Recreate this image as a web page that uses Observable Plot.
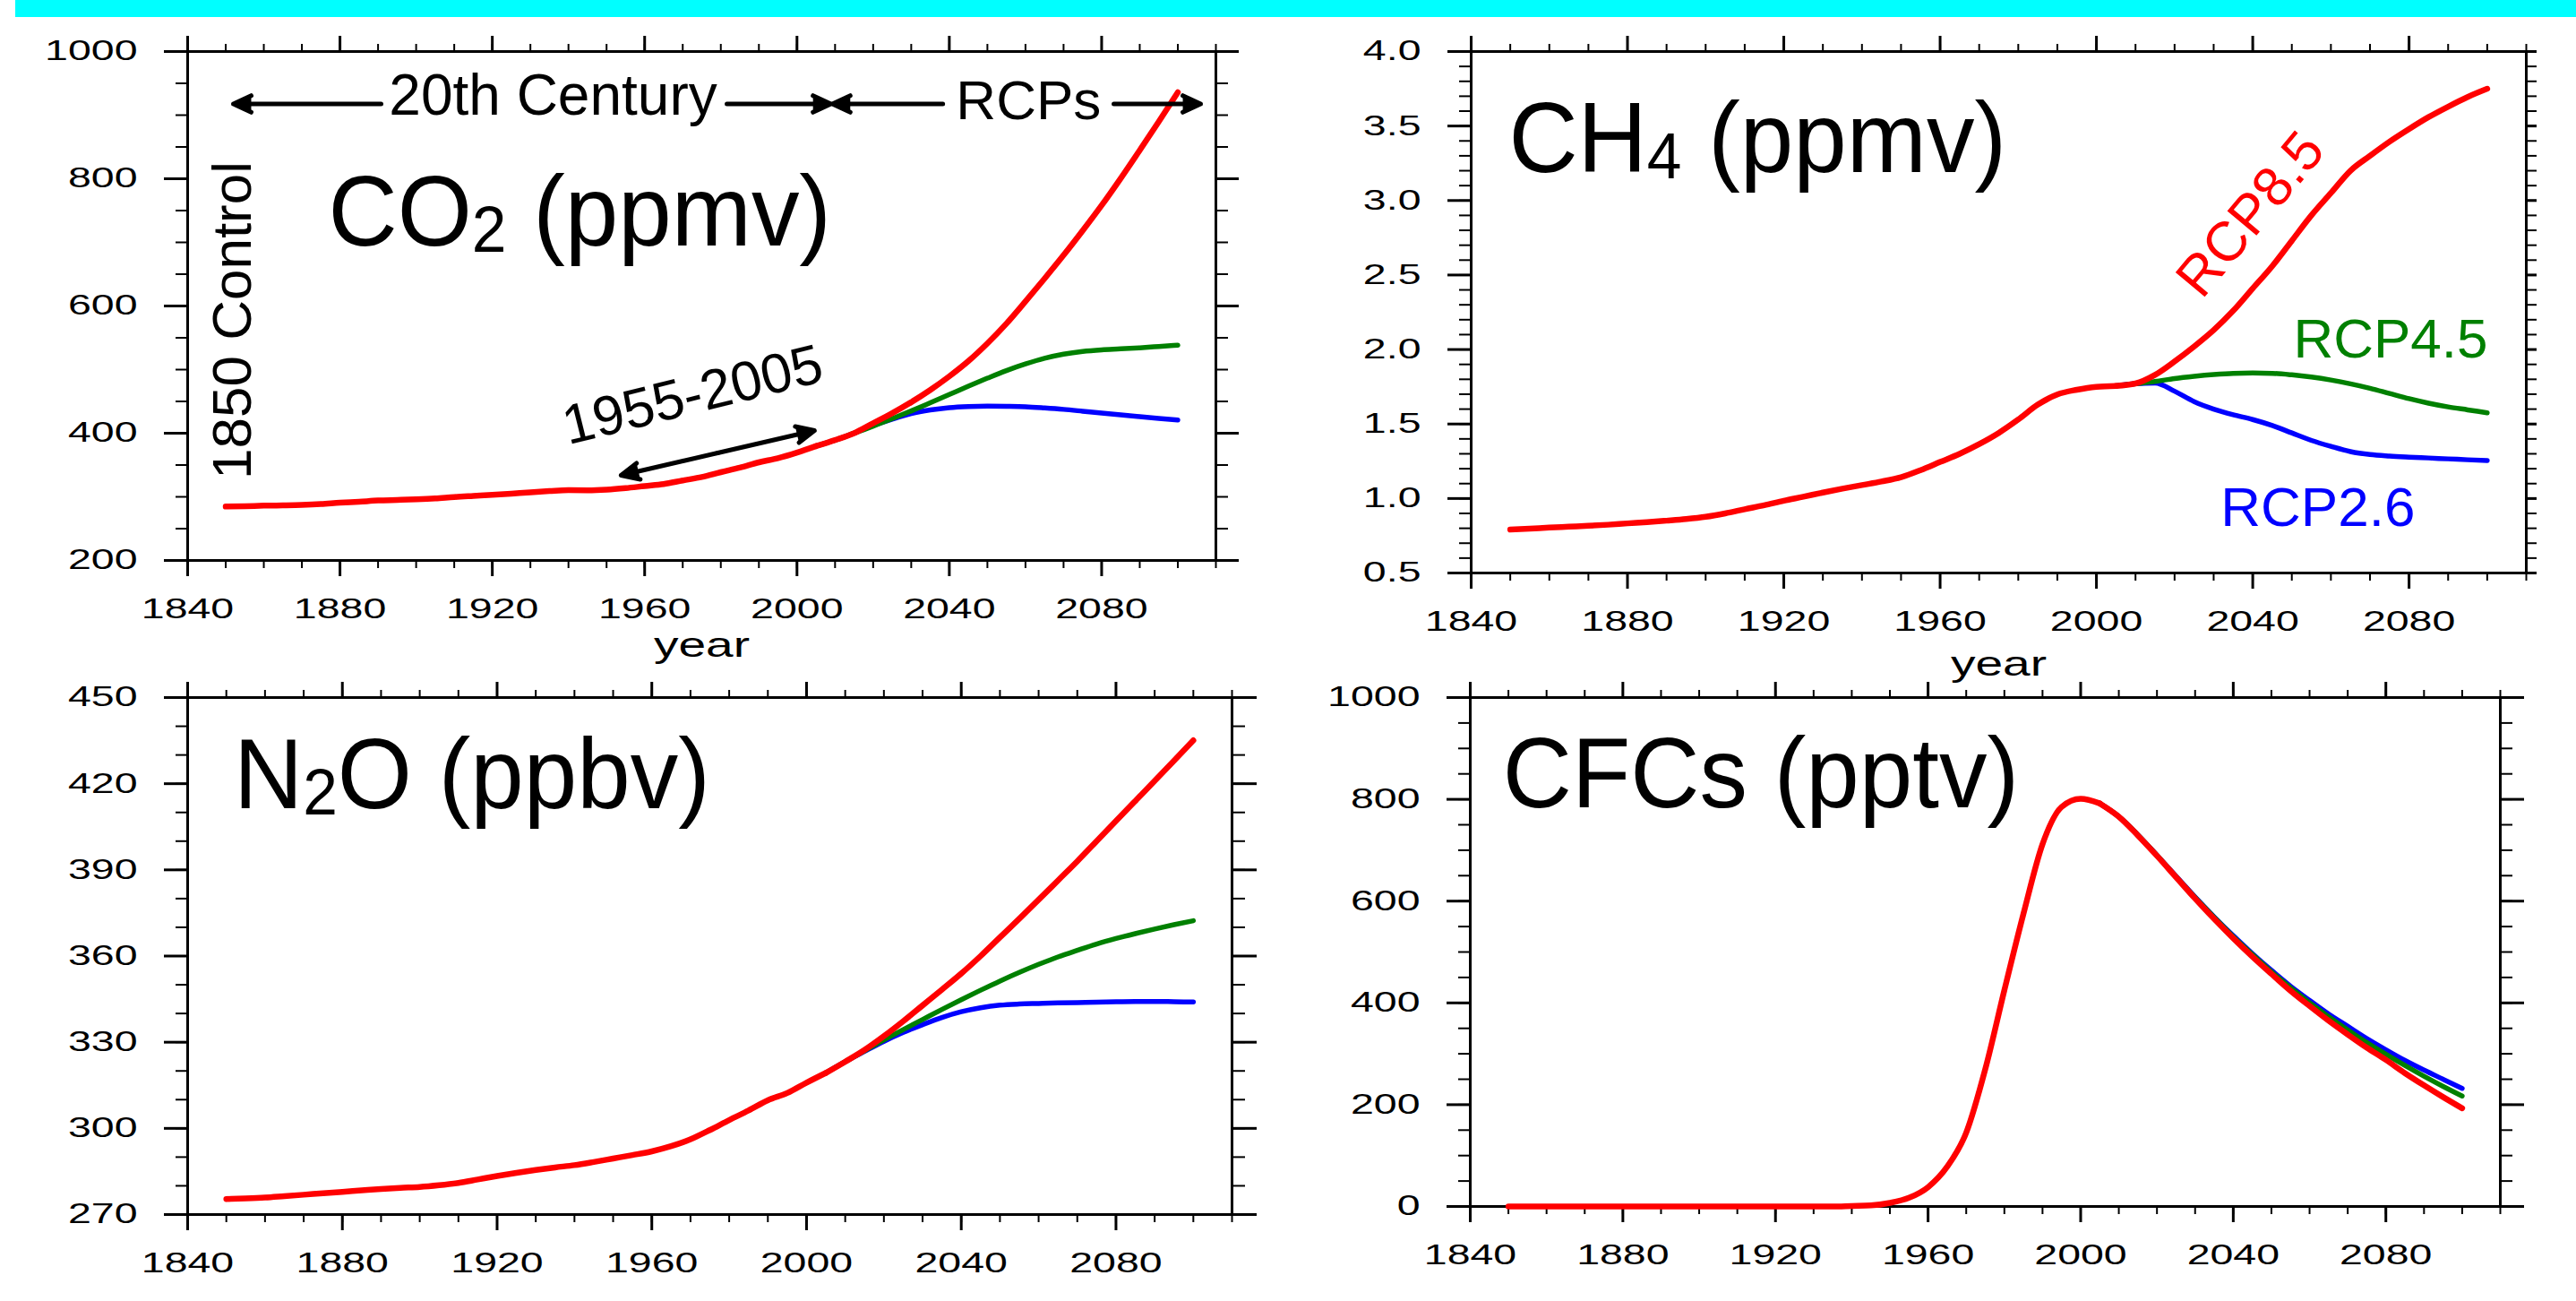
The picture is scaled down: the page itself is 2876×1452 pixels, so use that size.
<!DOCTYPE html>
<html><head><meta charset="utf-8">
<script src="https://cdn.jsdelivr.net/npm/d3@7"></script>
<script src="https://cdn.jsdelivr.net/npm/@observablehq/plot@0.6"></script>
<style>
html,body{margin:0;padding:0;background:#fff;}
#page{position:relative;width:2876px;height:1452px;overflow:hidden;background:#fff;}
#bar{position:absolute;left:17px;top:0;width:2859px;height:19px;background:#00ffff;}
</style></head>
<body><div id="page"><div id="bar"></div></div>
<script>
// ---------------- data ----------------
const histYears = [1850,1855,1860,1865,1870,1875,1880,1885,1890,1895,1900,1905,1910,1915,1920,1925,1930,1935,1940,1945,1950,1955,1960,1965,1970,1975,1980,1985,1990,1995,2000,2005];
const rcpYears = [2005,2010,2015,2020,2025,2030,2035,2040,2045,2050,2055,2060,2065,2070,2075,2080,2085,2090,2095,2100];

const co2Hist = [284.7,285.2,286.1,286.6,287.3,288.6,290.7,292.3,294.2,295.1,296.0,297.4,299.7,301.4,303.0,305.0,307.2,309.0,310.4,310.3,311.3,313.7,316.9,320.0,325.7,331.1,338.7,345.9,354.2,360.8,369.6,379.8];
const co2Rcp26 = [379.8,389.1,400.0,412.1,422.1,430.8,436.5,440.2,442.0,442.7,442.4,441.7,439.8,437.5,434.6,431.6,428.8,426.0,423.4,420.9];
const co2Rcp45 = [379.8,389.1,400.1,411.1,422.8,435.0,447.8,460.8,473.9,486.5,498.5,508.9,517.8,524.3,528.6,531.1,532.6,534.3,536.3,538.4];
const co2Rcp85 = [379.8,389.3,400.1,415.8,431.5,448.8,468.0,489.4,513.3,541.2,572.4,607.2,643.0,679.8,718.3,758.2,800.6,844.8,889.8,935.9];

const ch4Hist = [0.791,0.797,0.805,0.811,0.817,0.824,0.833,0.841,0.851,0.862,0.877,0.900,0.928,0.955,0.985,1.012,1.040,1.066,1.090,1.114,1.143,1.190,1.245,1.300,1.365,1.440,1.530,1.630,1.698,1.730,1.750,1.756];
const ch4Rcp26 = [1.756,1.770,1.775,1.720,1.650,1.600,1.562,1.530,1.490,1.440,1.390,1.350,1.315,1.295,1.285,1.278,1.272,1.266,1.260,1.255];
const ch4Rcp45 = [1.756,1.770,1.785,1.805,1.820,1.832,1.840,1.842,1.840,1.830,1.815,1.795,1.770,1.740,1.705,1.670,1.640,1.615,1.595,1.575];
const ch4Rcp85 = [1.756,1.772,1.830,1.920,2.020,2.130,2.260,2.410,2.560,2.730,2.900,3.050,3.200,3.300,3.395,3.480,3.560,3.630,3.695,3.750];

const n2oHist = [275.4,275.6,275.9,276.4,276.9,277.4,277.9,278.4,278.9,279.3,279.6,280.2,281.0,282.2,283.4,284.5,285.5,286.4,287.2,288.3,289.5,290.7,292.0,293.8,296.2,299.4,302.9,306.2,309.8,312.3,315.9,319.3];
const n2oRcp26 = [319.3,323.2,326.8,330.3,333.4,336.1,338.6,340.6,342.0,342.9,343.3,343.5,343.7,343.8,343.9,344.1,344.2,344.2,344.1,344.0];
const n2oRcp45 = [319.3,323.2,327.0,330.8,334.4,337.9,341.4,344.8,348.1,351.3,354.3,357.1,359.7,362.0,364.2,366.1,367.8,369.4,370.9,372.3];
const n2oRcp85 = [319.3,323.2,327.3,332.1,337.3,342.8,348.3,353.9,360.0,366.5,373.0,379.6,386.3,393.0,400.0,407.0,414.0,421.0,428.0,435.1];

const cfcHist = [0,0,0,0,0,0,0,0,0,0,0,0,0,0,0,0,0,0,1,2,7,17,38,78,145,270,425,575,712,785,801,792];
const cfcRcp26 = [792,766,730,690,649,608,569,532,497,464,433,405,378,354,330,308,287,268,250,232];
const cfcRcp45 = [792,766,730,690,648,607,568,530,495,461,430,400,373,347,322,299,277,256,236,217];
const cfcRcp85 = [792,766,729,689,647,605,565,527,491,457,424,394,365,338,312,288,262,238,215,193];

// tick labels
const xTicks = [1840,1880,1920,1960,2000,2040,2080];
const co2Ticks = [200,400,600,800,1000];
const ch4Ticks = [0.5,1.0,1.5,2.0,2.5,3.0,3.5,4.0];
const n2oTicks = [270,300,330,360,390,420,450];
const cfcTicks = [0,200,400,600,800,1000];

// text
const titleParts = {
  co2: ["CO", "2", " (ppmv)"],
  ch4: ["CH", "4", " (ppmv)"],
  n2o: ["N", "2", "O (ppbv)"],
  cfc: ["CFCs (pptv)", "", ""]
};
const scenarioNames = ["RCP2.6", "RCP4.5", "RCP8.5"];
const colors = {"RCP2.6": "#0000ff", "RCP4.5": "#008000", "RCP8.5": "#ff0000"};

// ---------------- helpers ----------------
const FONT = '"Liberation Sans", Arial, Helvetica, sans-serif';
const series = (years, values) => years.map((year, i) => ({year, value: values[i]}));

function gasLines(hist, r26, r45, r85) {
  return [
    Plot.line(series(rcpYears, r26), {x: "year", y: "value", stroke: colors["RCP2.6"], strokeWidth: 5.5, curve: "monotone-x"}),
    Plot.line(series(rcpYears, r45), {x: "year", y: "value", stroke: colors["RCP4.5"], strokeWidth: 5.5, curve: "monotone-x"}),
    Plot.line(series(rcpYears, r85), {x: "year", y: "value", stroke: colors["RCP8.5"], strokeWidth: 6.5, curve: "monotone-x"}),
    Plot.line(series(histYears, hist), {x: "year", y: "value", stroke: colors["RCP8.5"], strokeWidth: 6.5, curve: "monotone-x"})
  ];
}

function axes(o) {
  const xMinor = d3.range(1840, 2111, 10);
  const n = Math.round((o.yDomain[1] - o.yDomain[0]) / o.minorStep);
  const yMinor = d3.range(0, n + 1).map(i => +(o.yDomain[0] + i * o.minorStep).toFixed(4));
  return [
    Plot.axisX({anchor: "bottom", ticks: xMinor, tickSize: 9, strokeWidth: 2, fill: "none", label: null}),
    Plot.axisX({anchor: "top", ticks: xMinor, tickSize: 9, strokeWidth: 2, fill: "none", label: null}),
    Plot.axisX({anchor: "top", ticks: xTicks, tickSize: 18, strokeWidth: 3, fill: "none", label: null}),
    Plot.axisX({anchor: "bottom", ticks: xTicks, tickSize: 18, strokeWidth: 3, tickPadding: 24, fontSize: 31, tickFormat: d => String(d), label: null}),
    Plot.axisY({anchor: "left", ticks: yMinor, tickSize: 13, strokeWidth: 2, fill: "none", label: null}),
    Plot.axisY({anchor: "right", ticks: yMinor, tickSize: o.rMinor, strokeWidth: 2, fill: "none", label: null}),
    Plot.axisY({anchor: "right", ticks: o.yTicks, tickSize: o.rMajor, strokeWidth: 3, fill: "none", label: null}),
    Plot.axisY({anchor: "left", ticks: o.yTicks, tickSize: 26, strokeWidth: 3, tickPadding: 30, fontSize: 31, tickFormat: o.yFormat, label: null}),
    Plot.frame({strokeWidth: 3})
  ];
}

function title(key, x, y) {
  return Plot.text([titleParts[key].join("")], {x: () => x, y: () => y, text: d => d, fontSize: 112, textAnchor: "start", lineAnchor: "bottom"});
}
function label(txt, x, y, opts = {}) {
  return Plot.text([txt], {x: () => x, y: () => y, text: d => d, fontSize: 62, lineAnchor: "bottom", textAnchor: "start", ...opts});
}
function yearLabel(dy) {
  return Plot.text(["year"], {frameAnchor: "bottom", dy, text: d => d, fontSize: 38, lineAnchor: "bottom"});
}

function addTransform(t, extra) {
  const tr = t.getAttribute("transform") || "";
  t.setAttribute("transform", (tr + " " + extra).trim());
}
function postProcess(svg) {
  const ns = "http://www.w3.org/2000/svg";
  svg.querySelectorAll('[aria-label$="tick label"] text').forEach(t => addTransform(t, "scale(1.5,1)"));
  svg.querySelectorAll("text").forEach(t => {
    const c = t.textContent;
    const parts = Object.values(titleParts).find(p => p.join("") === c);
    if (parts) {
      if (parts[1]) {
        t.textContent = "";
        const a = document.createElementNS(ns, "tspan"); a.textContent = parts[0]; t.appendChild(a);
        const b = document.createElementNS(ns, "tspan"); b.textContent = parts[1];
        b.setAttribute("font-size", "0.65em"); b.setAttribute("dy", "7"); t.appendChild(b);
        const d = document.createElementNS(ns, "tspan"); d.textContent = parts[2];
        d.setAttribute("dy", "-7"); t.appendChild(d);
      }
      addTransform(t, "scale(0.955,1)");
    } else if (c === "year") {
      addTransform(t, "scale(1.45,1)");
    }
  });
}

function panel(cfg) {
  const {left, top, width, height, frame} = cfg;
  const svg = Plot.plot({
    width, height,
    marginLeft: frame.l - left, marginRight: left + width - frame.r,
    marginTop: frame.t - top, marginBottom: top + height - frame.b,
    style: `background: transparent; overflow: visible; max-width: none; font-family: ${FONT};`,
    x: {domain: [1840, 2110], axis: null},
    y: {domain: cfg.yDomain, axis: null},
    marks: [...axes(cfg), ...cfg.marks]
  });
  svg.style.position = "absolute";
  svg.style.left = left + "px";
  svg.style.top = top + "px";
  postProcess(svg);
  document.getElementById("page").appendChild(svg);
}

const arrowStyle = {x1: "x1", y1: "y1", x2: "x2", y2: "y2", stroke: "black", fill: "black", strokeWidth: 5, headLength: 6.6, headAngle: 50};
const periodArrows = [
  {x1: 1890.8, y1: 917.6, x2: 1852.0, y2: 917.6},
  {x1: 1981.6, y1: 917.6, x2: 2008.9, y2: 917.6},
  {x1: 2038.3, y1: 917.6, x2: 2009.3, y2: 917.6},
  {x1: 2083.2, y1: 917.6, x2: 2106.0, y2: 917.6}
];
const spanArrows = [
  {x1: 1979.2, y1: 369.0, x2: 1953.8, y2: 333.8},
  {x1: 1979.2, y1: 369.0, x2: 2004.6, y2: 404.2}
];

// ---------------- panels ----------------
panel({
  left: 0, top: 20, width: 1430, height: 740,
  frame: {l: 209, r: 1357, t: 57, b: 625},
  yDomain: [200, 1000], yTicks: co2Ticks, minorStep: 50, yFormat: d => String(d), rMajor: 25, rMinor: 13,
  marks: [
    ...gasLines(co2Hist, co2Rcp26, co2Rcp45, co2Rcp85),
    Plot.arrow(periodArrows, arrowStyle),
    Plot.arrow(spanArrows, arrowStyle),
    label("20th Century", 1935.96, 901.4, {fontSize: 64, textAnchor: "middle"}),
    label("RCPs", 2060.8, 893.0, {textAnchor: "middle"}),
    label("1850 Control", 1852.0, 577.5, {rotate: -90, textAnchor: "middle", lineAnchor: "middle"}),
    label("1955-2005", 1972.6, 459.2, {rotate: -14, textAnchor: "middle", lineAnchor: "middle"}),
    title("co2", 1876.9, 694.4),
    yearLabel(107)
  ]
});

panel({
  left: 1438, top: 20, width: 1438, height: 740,
  frame: {l: 1642, r: 2820, t: 57, b: 639},
  yDomain: [0.5, 4.0], yTicks: ch4Ticks, minorStep: 0.1, yFormat: d => d.toFixed(1), rMajor: 11, rMinor: 11,
  marks: [
    ...gasLines(ch4Hist, ch4Rcp26, ch4Rcp45, ch4Rcp85),
    label(scenarioNames[2], 2039.5, 2.906, {fill: colors["RCP8.5"], rotate: -50, textAnchor: "middle", lineAnchor: "middle"}),
    label(scenarioNames[1], 2050.4, 1.945, {fill: colors["RCP4.5"]}),
    label(scenarioNames[0], 2031.8, 0.813, {fill: colors["RCP2.6"]}),
    title("ch4", 1849.6, 3.191),
    yearLabel(114)
  ]
});

panel({
  left: 0, top: 740, width: 1430, height: 712,
  frame: {l: 209, r: 1375, t: 778, b: 1355},
  yDomain: [270, 450], yTicks: n2oTicks, minorStep: 10, yFormat: d => String(d), rMajor: 27, rMinor: 14,
  marks: [
    ...gasLines(n2oHist, n2oRcp26, n2oRcp45, n2oRcp85),
    title("n2o", 1851.9, 411.6)
  ]
});

panel({
  left: 1438, top: 740, width: 1438, height: 712,
  frame: {l: 1641, r: 2791, t: 778, b: 1346},
  yDomain: [0, 1000], yTicks: cfcTicks, minorStep: 50, yFormat: d => String(d), rMajor: 26, rMinor: 13,
  marks: [
    ...gasLines(cfcHist, cfcRcp26, cfcRcp45, cfcRcp85),
    title("cfc", 1848.5, 783.5)
  ]
});
</script>
</body></html>
